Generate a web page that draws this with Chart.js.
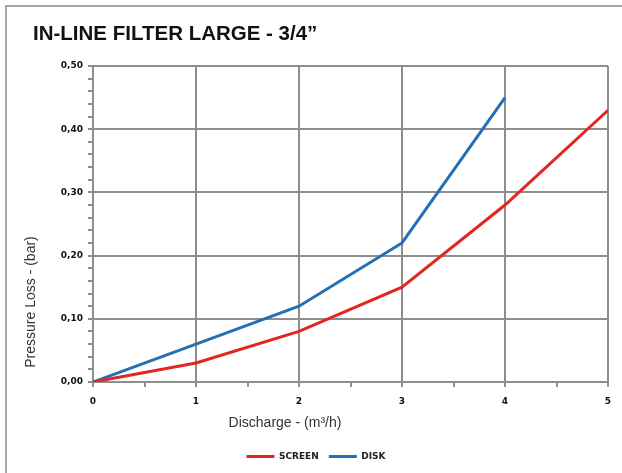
<!DOCTYPE html>
<html>
<head>
<meta charset="utf-8">
<style>
  html, body { margin: 0; padding: 0; background: #ffffff; }
  #wrap { position: relative; width: 622px; height: 473px; }
</style>
<script src="https://cdn.jsdelivr.net/npm/chart.js@4"></script>
</head>
<body>
<div id="wrap"><canvas id="c" width="622" height="473"></canvas></div>
<script>
const chartTitle = 'IN-LINE FILTER LARGE - 3/4\u201D';
const xTitle = 'Discharge - (m\u00B3/h)';
const yTitle = 'Pressure Loss - (bar)';
const seriesNames = ['SCREEN', 'DISK'];
const discharge = [0, 1, 2, 3, 4, 5];
const screenLoss = [0, 0.03, 0.08, 0.15, 0.28, 0.43];
const diskLoss = [0, 0.06, 0.12, 0.22, 0.45];

const RED = '#e3261f';
const BLUE = '#2470b4';
const GRID = '#8e8e8e';

function toPoints(xs, ys) { return ys.map((y, i) => ({ x: xs[i], y: y })); }
function isMultiple(v, step) { const r = v / step; return Math.abs(r - Math.round(r)) < 1e-6; }

const decor = {
  id: 'decor',
  beforeDraw(chart) {
    const c = chart.ctx;
    c.save();
    c.strokeStyle = '#a6a6a6';
    c.lineWidth = 2;
    c.beginPath();
    c.moveTo(6, 473);
    c.lineTo(6, 6);
    c.lineTo(622, 6);
    c.stroke();
    c.restore();
  },
  afterDraw(chart) {
    const c = chart.ctx;
    c.save();
    c.fillStyle = '#111111';
    c.font = 'bold 20.5px "Liberation Sans", Arial, sans-serif';
    c.textAlign = 'left';
    c.textBaseline = 'alphabetic';
    c.fillText(chartTitle, 33, 40);

    c.fillStyle = '#333333';
    c.font = '14px "Liberation Sans", Arial, sans-serif';
    c.textAlign = 'center';
    c.textBaseline = 'middle';
    c.fillText(xTitle, 285, 423);

    c.translate(31, 302);
    c.rotate(-Math.PI / 2);
    c.fillText(yTitle, 0, 0);
    c.restore();
  }
};

new Chart(document.getElementById('c'), {
  type: 'line',
  data: {
    datasets: [
      { label: seriesNames[0], data: toPoints(discharge, screenLoss), borderColor: RED, backgroundColor: RED, borderWidth: 3, pointRadius: 0, tension: 0 },
      { label: seriesNames[1], data: toPoints(discharge, diskLoss), borderColor: BLUE, backgroundColor: BLUE, borderWidth: 3, pointRadius: 0, tension: 0 }
    ]
  },
  options: {
    responsive: false,
    animation: false,
    devicePixelRatio: 1,
    layout: { padding: { top: 66, right: 14, left: 24, bottom: 2 } },
    plugins: {
      title: { display: false },
      tooltip: { enabled: false },
      legend: {
        position: 'bottom',
        labels: {
          usePointStyle: true,
          pointStyle: 'line',
          pointStyleWidth: 28,
          color: '#222222',
          font: { family: '"DejaVu Sans", Verdana, sans-serif', size: 9, weight: 'bold' },
          padding: 10
        }
      }
    },
    scales: {
      x: {
        type: 'linear',
        min: 0, max: 5,
        afterFit(s) { s.height = 60; },
        ticks: {
          stepSize: 0.5,
          autoSkip: false,
          maxRotation: 0,
          padding: 9,
          color: '#111111',
          font: { family: '"DejaVu Sans", Verdana, sans-serif', size: 9, weight: 'bold' },
          callback: (v) => isMultiple(v, 1) ? String(Math.round(v)) : ''
        },
        grid: {
          lineWidth: 2,
          color: (ctx) => (ctx.tick && isMultiple(ctx.tick.value, 1)) ? GRID : 'rgba(0,0,0,0)',
          tickColor: GRID,
          tickLength: 5,
          drawTicks: true
        },
        border: { display: true, color: GRID, width: 2 }
      },
      y: {
        type: 'linear',
        min: 0, max: 0.5,
        afterFit(s) { s.width = 69; },
        ticks: {
          stepSize: 0.02,
          autoSkip: false,
          padding: 5,
          color: '#111111',
          font: { family: '"DejaVu Sans", Verdana, sans-serif', size: 9, weight: 'bold' },
          callback: (v) => isMultiple(v, 0.1) ? v.toFixed(2).replace('.', ',') : ''
        },
        grid: {
          lineWidth: 2,
          color: (ctx) => (ctx.tick && isMultiple(ctx.tick.value, 0.1)) ? GRID : 'rgba(0,0,0,0)',
          tickColor: GRID,
          tickLength: 5,
          drawTicks: true
        },
        border: { display: true, color: GRID, width: 2 }
      }
    }
  },
  plugins: [decor]
});
</script>
</body>
</html>
